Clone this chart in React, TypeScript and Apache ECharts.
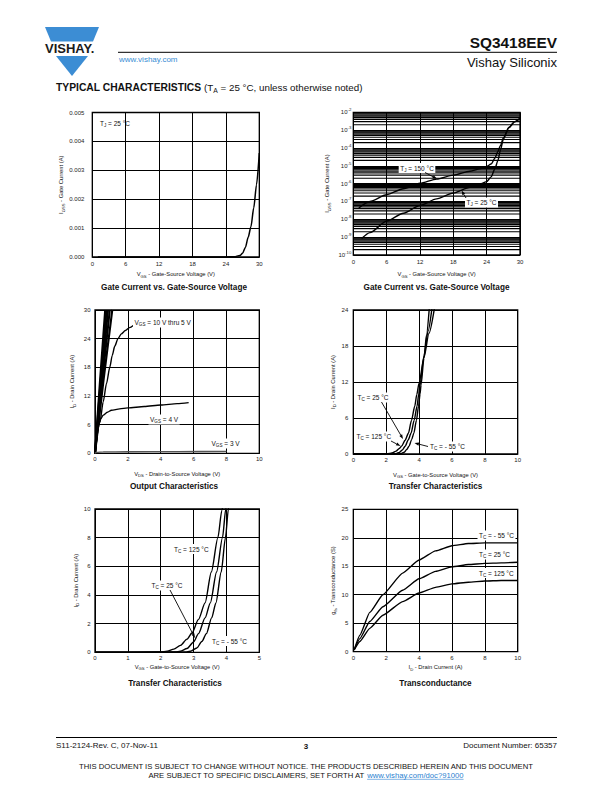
import React, { useEffect, useRef } from 'react';
import * as echarts from 'echarts';

const FONT = '"Liberation Sans", Arial, Helvetica, sans-serif';

// ---------- Gate current vs gate-source voltage (linear) ----------
const gateLinV = [1, 5, 10, 15, 20, 24, 25.5, 26.5, 27, 27.5, 28, 28.5, 29, 29.5, 30];
const gateLinI = [0, 0, 0, 0, 0, 0.000001, 0.00001, 0.00005, 0.00013, 0.00033, 0.00068, 0.00105, 0.0017, 0.0025, 0.0036];

// ---------- Gate current vs gate-source voltage (log) ----------
const gateLog150V = [1, 3, 6, 9, 12, 15, 18, 21, 23, 24, 24.8, 25.5, 26, 26.5, 27, 28, 29, 30];
const gateLog150I = [4.4e-8, 1.0e-7, 2.4e-7, 5.2e-7, 1.05e-6, 1.8e-6, 3.0e-6, 5.0e-6, 7.1e-6, 9.3e-6, 1.26e-5, 2.7e-5, 6.2e-5, 1.4e-4, 3.6e-4, 1.4e-3, 2.9e-3, 4.6e-3];
const gateLog25V = [1.5, 3, 6, 9, 12, 15, 18, 21, 23, 24, 24.8, 25.5, 26, 26.5, 27, 28, 29, 30];
const gateLog25I = [8.3e-10, 1.8e-9, 7.9e-9, 2.2e-8, 6.0e-8, 1.4e-7, 3.0e-7, 6.3e-7, 1.0e-6, 1.3e-6, 2.4e-6, 7.0e-6, 1.9e-5, 8.0e-5, 3.1e-4, 1.4e-3, 2.9e-3, 4.6e-3];
const logTickExp = [-10, -9, -8, -7, -6, -5, -4, -3, -2];
const logMinorMantissa = [2, 3, 4, 5, 6, 7, 8, 9];

// ---------- Output characteristics ----------
const out10Vds = [0, 0.31, 0.62];
const out10Id = [0, 15.4, 30];
const out9Vds = [0, 0.35, 0.7];
const out9Id = [0, 15.4, 30];
const out8Vds = [0, 0.4, 0.79];
const out8Id = [0, 15.4, 30];
const out7Vds = [0, 0.45, 0.9];
const out7Id = [0, 15.4, 30];
const out6Vds = [0, 0.52, 1.05];
const out6Id = [0, 15.3, 30];
const out5Vds = [0, 0.3, 0.5, 0.7, 0.9, 1.05, 1.2, 1.4, 1.6, 1.85, 2.1, 2.35];
const out5Id = [0, 6.5, 10.8, 14.6, 18, 20.5, 22.4, 24, 25, 25.7, 26.3, 26.8];
const out4Vds = [0, 0.08, 0.16, 0.25, 0.35, 0.5, 0.75, 1, 1.5, 2, 3, 4, 5, 5.7];
const out4Id = [0, 2.5, 4.6, 6.2, 7.2, 8.0, 8.6, 9.0, 9.3, 9.5, 9.8, 10.1, 10.4, 10.6];
const out3Vds = [0, 0.1, 0.5, 2, 5, 8];
const out3Id = [0, 0.2, 0.28, 0.32, 0.36, 0.4];

// ---------- Transfer characteristics ----------
const tr125Vgs = [0, 2.0, 2.2, 2.4, 2.6, 2.8, 2.95, 3.15, 3.35, 3.54, 3.74, 3.86, 4.0, 4.3, 4.6, 4.93];
const tr125Id = [0, 0.02, 0.08, 0.22, 0.48, 0.92, 1.35, 2.3, 3.45, 5.6, 8.0, 9.9, 11.8, 16.1, 20.1, 24.2];
const tr25Vgs = [0, 2.45, 2.6, 2.8, 3.0, 3.15, 3.35, 3.51, 3.7, 3.88, 3.98, 4.05, 4.3, 4.55, 4.78];
const tr25Id = [0, 0.02, 0.07, 0.26, 0.72, 1.3, 2.4, 3.45, 5.6, 8.0, 10, 11.4, 16.4, 20.5, 24.2];
const trM55Vgs = [0, 2.75, 2.9, 3.1, 3.25, 3.39, 3.55, 3.68, 3.84, 3.97, 4.06, 4.12, 4.3, 4.45, 4.62];
const trM55Id = [0, 0.02, 0.07, 0.3, 0.75, 1.3, 2.4, 3.45, 5.6, 8.0, 10, 11.5, 16.0, 19.8, 24.2];

// ---------- Transconductance ----------
const gfsId = [0.05, 0.4, 1, 1.8, 3, 4, 5, 6, 7, 8, 9, 10];
const gfsM55 = [0.3, 2.9, 6.9, 10.0, 13.8, 16.1, 17.7, 18.6, 19.0, 19.1, 19.1, 19.1];
const gfs25 = [0.3, 2.3, 5.3, 7.9, 10.8, 12.8, 14.1, 14.9, 15.3, 15.5, 15.6, 15.7];
const gfs125 = [0.3, 1.8, 4.1, 6.4, 8.8, 10.3, 11.3, 11.9, 12.2, 12.4, 12.5, 12.5];

// ---------- Text ----------
const DISC1 = 'THIS DOCUMENT IS SUBJECT TO CHANGE WITHOUT NOTICE. THE PRODUCTS DESCRIBED HEREIN AND THIS DOCUMENT';
const DISC2 = 'ARE SUBJECT TO SPECIFIC DISCLAIMERS, SET FORTH AT ';
const DISC_LINK = 'www.vishay.com/doc?91000';

const pairs = (xs: number[], ys: number[]) => xs.map((x, i) => [x, ys[i]]);

const nameRich = {
  n: { fontSize: 5.8, lineHeight: 8, fontFamily: FONT, color: '#111' },
  s: { fontSize: 4.2, lineHeight: 4, verticalAlign: 'bottom', fontFamily: FONT, color: '#111' },
};

const labelRich = {
  n: { fontSize: 6.5, lineHeight: 9, fontFamily: FONT, fill: '#111' },
  s: { fontSize: 4.6, lineHeight: 5, verticalAlign: 'bottom', fontFamily: FONT, fill: '#111' },
};

function axisBase(gridIndex: number, min: number, max: number, interval: number, name: string, nameGap: number, labelMargin: number, isY: boolean, fmt?: (v: number) => string) {
  return {
    type: 'value',
    gridIndex,
    min,
    max,
    interval,
    name,
    nameLocation: 'middle',
    nameGap,
    nameRotate: isY ? 90 : 0,
    nameTextStyle: { fontSize: 5.8, fontFamily: FONT, color: '#111', rich: nameRich },
    axisLine: { show: false },
    axisTick: { show: false },
    splitLine: { show: true, lineStyle: { color: '#000', width: 1 } },
    axisLabel: { fontSize: 6, fontFamily: FONT, color: '#222', margin: labelMargin, formatter: fmt },
  };
}

function lineSeries(idx: number, data: number[][], extra: any = {}) {
  return {
    type: 'line',
    xAxisIndex: idx,
    yAxisIndex: idx,
    data,
    symbol: 'none',
    showSymbol: false,
    smooth: 0.25,
    smoothMonotone: 'x',
    clip: true,
    silent: true,
    z: 3,
    lineStyle: { color: '#000', width: 1.4 },
    ...extra,
  };
}

function label(x: number, y: number, text: string, bg = false, align = 'left') {
  return {
    type: 'text',
    x,
    y,
    z: 100,
    silent: true,
    style: {
      text,
      rich: labelRich,
      fill: '#111',
      fontFamily: FONT,
      fontSize: 6.5,
      align,
      verticalAlign: 'middle',
      backgroundColor: bg ? '#fff' : undefined,
      padding: bg ? [0.5, 1.5] : 0,
    },
  };
}

function arrow(x1: number, y1: number, x2: number, y2: number) {
  const ang = Math.atan2(y2 - y1, x2 - x1);
  const L = 4.5;
  const W = 1.6;
  const bx = x2 - L * Math.cos(ang);
  const by = y2 - L * Math.sin(ang);
  const px = -Math.sin(ang) * W;
  const py = Math.cos(ang) * W;
  return [
    { type: 'line', z: 100, silent: true, shape: { x1, y1, x2: bx, y2: by }, style: { stroke: '#000', lineWidth: 0.9 } },
    { type: 'polygon', z: 100, silent: true, shape: { points: [[x2, y2], [bx + px, by + py], [bx - px, by - py]] }, style: { fill: '#000' } },
  ];
}

function plainText(x: number, y: number, text: string, size: number, opts: any = {}) {
  return {
    type: 'text',
    x,
    y,
    z: 100,
    silent: true,
    style: { text, fill: '#111', fontFamily: FONT, fontSize: size, align: 'left', verticalAlign: 'middle', ...opts },
  };
}

function buildOption() {
  const grids = [
    { left: 92.3, top: 112.5, width: 167, height: 144.5 },
    { left: 353.3, top: 112.3, width: 166.7, height: 142.7 },
    { left: 95, top: 310, width: 164.3, height: 143.3 },
    { left: 353.3, top: 310, width: 164.4, height: 144 },
    { left: 95, top: 509, width: 164.3, height: 143.3 },
    { left: 353.3, top: 509.3, width: 164.4, height: 142.4 },
  ].map((g) => ({ ...g, show: true, borderColor: '#000', borderWidth: 1.3, backgroundColor: 'transparent', containLabel: false, outerBoundsMode: 'none' }));

  const xAxes = [
    axisBase(0, 0, 30, 6, '{n|V}{s|GS}{n| - Gate-Source Voltage (V)}', 13, 3.5, false),
    axisBase(1, 0, 30, 6, '{n|V}{s|GS}{n| - Gate-Source Voltage (V)}', 15, 4, false),
    axisBase(2, 0, 10, 2, '{n|V}{s|DS}{n| - Drain-to-Source Voltage (V)}', 16.5, 2.8, false),
    axisBase(3, 0, 10, 2, '{n|V}{s|GS}{n| - Gate-to-Source Voltage (V)}', 16.5, 2.8, false),
    axisBase(4, 0, 5, 1, '{n|V}{s|GS}{n| - Gate-to-Source Voltage (V)}', 10.5, 2.8, false),
    axisBase(5, 0, 10, 2, '{n|I}{s|D}{n| - Drain Current (A)}', 11.5, 3, false),
  ];

  const yLog: any = {
    type: 'log',
    gridIndex: 1,
    logBase: 10,
    min: 1e-10,
    max: 1e-2,
    splitNumber: 8,
    name: '{n|I}{s|GSS}{n| - Gate Current (A)}',
    nameLocation: 'middle',
    nameGap: 22,
    nameRotate: 90,
    nameTextStyle: { fontSize: 5.8, fontFamily: FONT, color: '#111', rich: nameRich },
    axisLine: { show: false },
    axisTick: { show: false },
    splitLine: { show: true, lineStyle: { color: '#000', width: 1.2 } },
    axisLabel: {
      margin: 2,
      fontFamily: FONT,
      color: '#222',
      formatter: (v: number) => `{b|10}{p|${Math.round(Math.log10(v))}}`,
      rich: {
        b: { fontSize: 6, lineHeight: 9, fontFamily: FONT, color: '#222' },
        p: { fontSize: 4.3, lineHeight: 5, verticalAlign: 'top', fontFamily: FONT, color: '#222' },
      },
    },
  };

  const yAxes = [
    axisBase(0, 0, 0.005, 0.001, '{n|I}{s|GSS}{n| - Gate Current (A)}', 24, 8, true, (v: number) => v.toFixed(3)),
    yLog,
    axisBase(2, 0, 30, 6, '{n|I}{s|D}{n| - Drain Current (A)}', 19, 4.5, true),
    axisBase(3, 0, 24, 6, '{n|I}{s|D}{n| - Drain Current (A)}', 16.5, 5, true),
    axisBase(4, 0, 10, 2, '{n|I}{s|D}{n| - Drain Current (A)}', 11, 4.5, true),
    axisBase(5, 0, 25, 5, '{n|g}{s|fs}{n| - Transconductance (S)}', 16, 5, true),
  ];

  // minor grid lines of the log axis (2..9 x 10^n), drawn through the log scale
  const minorLines: any[] = [];
  for (let i = 0; i < logTickExp.length - 1; i++) {
    for (const m of logMinorMantissa) {
      const v = m * Math.pow(10, logTickExp[i]);
      minorLines.push({
        type: 'line',
        xAxisIndex: 1,
        yAxisIndex: 1,
        data: [[0, v], [30, v]],
        symbol: 'none',
        showSymbol: false,
        silent: true,
        z: 1,
        lineStyle: { color: '#000', width: 1.15 },
      });
    }
  }

  const wedge = { smooth: false, lineStyle: { color: '#000', width: 2.1 } };

  const series: any[] = [
    ...minorLines,
    lineSeries(0, pairs(gateLinV, gateLinI), { lineStyle: { color: '#000', width: 1.5 } }),
    lineSeries(1, pairs(gateLog150V, gateLog150I)),
    lineSeries(1, pairs(gateLog25V, gateLog25I)),
    lineSeries(2, pairs(out10Vds, out10Id), wedge),
    lineSeries(2, pairs(out9Vds, out9Id), wedge),
    lineSeries(2, pairs(out8Vds, out8Id), wedge),
    lineSeries(2, pairs(out7Vds, out7Id), wedge),
    lineSeries(2, pairs(out6Vds, out6Id), wedge),
    lineSeries(2, pairs(out5Vds, out5Id)),
    lineSeries(2, pairs(out4Vds, out4Id)),
    lineSeries(2, pairs(out3Vds, out3Id), { lineStyle: { color: '#555', width: 1.3 } }),
    lineSeries(3, pairs(tr125Vgs, tr125Id)),
    lineSeries(3, pairs(tr25Vgs, tr25Id)),
    lineSeries(3, pairs(trM55Vgs, trM55Id)),
    lineSeries(4, pairs(tr125Vgs, tr125Id)),
    lineSeries(4, pairs(tr25Vgs, tr25Id)),
    lineSeries(4, pairs(trM55Vgs, trM55Id)),
    lineSeries(5, pairs(gfsId, gfsM55), { smooth: 0.15 }),
    lineSeries(5, pairs(gfsId, gfs25), { smooth: 0.15 }),
    lineSeries(5, pairs(gfsId, gfs125), { smooth: 0.15 }),
  ];

  // footer link measurement
  const DISC_SIZE = 7.7;
  const canvas = document.createElement('canvas');
  const ctx = canvas.getContext('2d')!;
  ctx.font = `${DISC_SIZE}px ${FONT}`;
  const w1 = ctx.measureText(DISC2).width;
  const w2 = ctx.measureText(DISC_LINK).width;
  const start = 306 - (w1 + w2) / 2;

  const titleStyle = { fontWeight: 'bold', align: 'center' };
  const TS = 8.2;

  const graphic: any[] = [
    // logo
    { type: 'polygon', z: 100, silent: true, shape: { points: [[45, 27], [99, 27], [93, 41.5], [51, 41.5]] }, style: { fill: '#3c8dd4' } },
    { type: 'polygon', z: 100, silent: true, shape: { points: [[56, 56], [88, 56], [72, 76]] }, style: { fill: '#3c8dd4' } },
    plainText(45, 48.8, 'VISHAY.', 13, { fontWeight: 'bold', fill: '#1a1a1a' }),
    plainText(119, 59, 'www.vishay.com', 8, { fill: '#3a8ed4' }),
    { type: 'line', z: 100, silent: true, shape: { x1: 118, y1: 52.3, x2: 557, y2: 52.3 }, style: { stroke: '#000', lineWidth: 1 } },
    plainText(557, 42, 'SQ3418EEV', 15.4, { fontWeight: 'bold', align: 'right' }),
    plainText(557, 62.5, 'Vishay Siliconix', 13, { align: 'right' }),
    {
      type: 'text', x: 56, y: 87.5, z: 100, silent: true,
      style: {
        text: '{b|TYPICAL CHARACTERISTICS}{t| (T}{ts|A}{t| = 25 °C, unless otherwise noted)}',
        fill: '#111', fontFamily: FONT, fontSize: 9.8, align: 'left', verticalAlign: 'middle',
        rich: {
          b: { fontSize: 10.3, fontWeight: 'bold', fontFamily: FONT, lineHeight: 13 },
          t: { fontSize: 9.8, fontFamily: FONT, lineHeight: 13 },
          ts: { fontSize: 6.8, fontFamily: FONT, lineHeight: 7, verticalAlign: 'bottom' },
        },
      },
    },
    // titles
    plainText(174, 287, 'Gate Current vs. Gate-Source Voltage', TS, titleStyle),
    plainText(436.5, 287, 'Gate Current vs. Gate-Source Voltage', TS, titleStyle),
    plainText(174, 486.5, 'Output Characteristics', TS, titleStyle),
    plainText(435.5, 486.5, 'Transfer Characteristics', TS, titleStyle),
    plainText(175, 683, 'Transfer Characteristics', TS, titleStyle),
    plainText(435.5, 683, 'Transconductance', TS, titleStyle),
    // chart 1
    label(100, 123, '{n|T}{s|J}{n| = 25 °C}'),
    // chart 2
    label(417, 168, '{n|T}{s|J}{n| = 150 °C}', true, 'center'),
    label(481.5, 202.5, '{n|T}{s|J}{n| = 25 °C}', true, 'center'),
    ...arrow(425, 172.5, 437, 178.8),
    ...arrow(466, 198, 461.5, 190.5),
    // chart 3
    label(133, 322.5, '{n|V}{s|GS}{n| = 10 V thru 5 V}', true),
    label(148.5, 419.5, '{n|V}{s|GS}{n| = 4 V}', true),
    label(210, 443.5, '{n|V}{s|GS}{n| = 3 V}', true),
    // chart 4
    label(356, 397.5, '{n|T}{s|C}{n| = 25 °C}', true),
    ...arrow(381.5, 402, 403, 439),
    label(355, 436.5, '{n|T}{s|C}{n| = 125 °C}', true),
    ...arrow(391, 441, 400.5, 446),
    label(428.5, 446.5, '{n|T}{s|C}{n| = - 55 °C}', true),
    ...arrow(428, 446.5, 414.5, 443),
    // chart 6 (bottom-left)
    label(172.5, 549, '{n|T}{s|C}{n| = 125 °C}', true),
    label(150, 585.5, '{n|T}{s|C}{n| = 25 °C}', true),
    ...arrow(170, 590, 195, 638),
    label(210.5, 641, '{n|T}{s|C}{n| = - 55 °C}', true),
    // chart 5
    label(477.5, 535.5, '{n|T}{s|C}{n| = - 55 °C}', true),
    label(477.5, 554.5, '{n|T}{s|C}{n| = 25 °C}', true),
    label(477.5, 573, '{n|T}{s|C}{n| = 125 °C}', true),
    // footer
    { type: 'line', z: 100, silent: true, shape: { x1: 56, y1: 737.5, x2: 557, y2: 737.5 }, style: { stroke: '#000', lineWidth: 1 } },
    plainText(56, 745.5, 'S11-2124-Rev. C, 07-Nov-11', 8),
    plainText(306, 746, '3', 8, { fontWeight: 'bold', align: 'center' }),
    plainText(557, 745.5, 'Document Number: 65357', 8, { align: 'right' }),
    plainText(306, 766.5, DISC1, DISC_SIZE, { align: 'center' }),
    plainText(start, 775, DISC2, DISC_SIZE),
    plainText(start + w1, 775, DISC_LINK, DISC_SIZE, { fill: '#2a7fd0' }),
    { type: 'line', z: 100, silent: true, shape: { x1: start + w1, y1: 779.3, x2: start + w1 + w2, y2: 779.3 }, style: { stroke: '#2a7fd0', lineWidth: 0.6 } },
  ];

  return {
    animation: false,
    backgroundColor: '#fff',
    textStyle: { fontFamily: FONT },
    grid: grids,
    xAxis: xAxes,
    yAxis: yAxes,
    series,
    graphic,
  };
}

export default function App() {
  const ref = useRef<HTMLDivElement>(null);
  useEffect(() => {
    document.body.style.margin = '0';
    const chart = echarts.init(ref.current!, null, { renderer: 'svg' });
    chart.setOption(buildOption() as any);
    return () => chart.dispose();
  }, []);
  return <div ref={ref} style={{ position: 'absolute', left: 0, top: 0, width: 612, height: 792, background: '#fff' }} />;
}
